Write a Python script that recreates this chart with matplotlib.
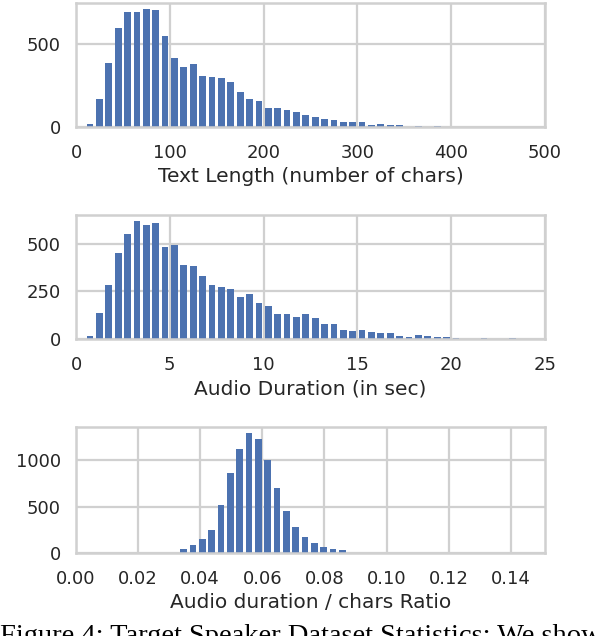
import numpy as np
import matplotlib
matplotlib.use("Agg")
import matplotlib.pyplot as plt

# histogram counts
text_bin_start = 10
text_bin_width = 10
text_counts = [18, 169, 381, 593, 690, 690, 708, 702, 544, 411,
               357, 375, 308, 302, 296, 272, 212, 169, 157, 115,
               115, 103, 91, 73, 60, 48, 42, 30, 30, 30,
               12, 18, 12, 12, 0, 6, 0, 6]

dur_bin_start = 0.5
dur_bin_width = 0.5
dur_counts = [16, 139, 284, 450, 552, 621, 600, 611, 482, 493,
              391, 386, 332, 284, 273, 262, 220, 236, 188, 171,
              134, 134, 118, 129, 113, 80, 80, 48, 43, 48,
              37, 32, 32, 16, 11, 21, 16, 11, 11, 5,
              0, 0, 5, 0, 0, 5]

ratio_bin_start = 0.0332
ratio_bin_width = 0.003
ratio_counts = [47, 91, 146, 245, 518, 869, 1120, 1296, 1230, 1000,
                704, 453, 277, 168, 113, 69, 47, 36]

bar_color = "#4C72B0"
grid_col = "#d0d0d0"
text_col = "#262626"

plt.rcParams['font.family'] = 'DejaVu Sans'

fig = plt.figure(figsize=(5.96, 6.36), dpi=100)
H = 636.0
W = 596.0

def make_ax(top, bottom):
    return fig.add_axes([76 / W, 1 - bottom / H, 469 / W, (bottom - top) / H])

panels = [
    (3, 127, text_bin_start, text_bin_width, text_counts, (0, 500),
     [0, 100, 200, 300, 400, 500], [0, 500], "Text Length (number of chars)"),
    (215, 339, dur_bin_start, dur_bin_width, dur_counts, (0, 25),
     [0, 5, 10, 15, 20, 25], [0, 250, 500], "Audio Duration (in sec)"),
    (427, 553, ratio_bin_start, ratio_bin_width, ratio_counts, (0, 0.151),
     [0.0, 0.02, 0.04, 0.06, 0.08, 0.10, 0.12, 0.14], [0, 500, 1000],
     "Audio duration / chars Ratio"),
]

for top, bottom, start, width, counts, xl, xt, yt, label in panels:
    ax = make_ax(top, bottom)
    centers = start + width * (np.arange(len(counts)) + 0.5)
    ax.bar(centers, counts, width=width * 0.72, color=bar_color, zorder=2)
    ax.set_xlim(*xl)
    ax.set_xticks(xt)
    if label.startswith("Audio duration"):
        ax.set_xticklabels([f"{v:.2f}" for v in xt])
    ax.set_yticks(yt)
    ax.grid(True, color=grid_col, linewidth=1.6, zorder=0)
    ax.set_axisbelow(True)
    for s in ax.spines.values():
        s.set_color(grid_col)
        s.set_linewidth(1.8)
    ax.tick_params(length=0, labelsize=13, colors=text_col)
    ax.tick_params(axis='x', pad=12)
    ax.tick_params(axis='y', pad=11)
    ax.set_xlabel(label, fontsize=14.5, color=text_col, labelpad=4)

fig.text(0.0, -7 / H, "Figure 4: Target Speaker Dataset Statistics: We show",
         family="Liberation Serif", fontsize=20.5, color="black",
         ha="left", va="baseline")

fig.savefig("out.png", dpi=100)
